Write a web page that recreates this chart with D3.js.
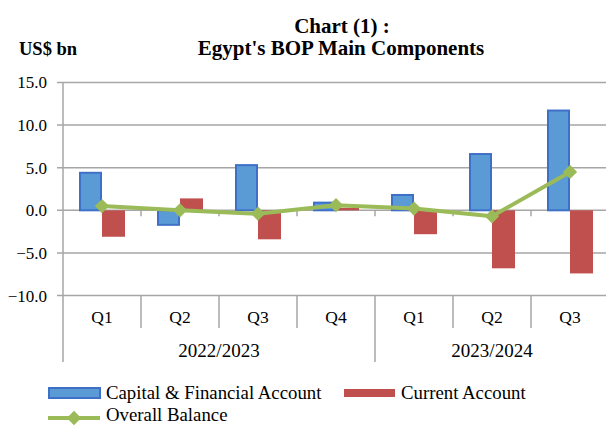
<!DOCTYPE html>
<html>
<head>
<meta charset="utf-8">
<script src="https://cdn.jsdelivr.net/npm/d3@7"></script>
<style>
  body { margin: 0; background: #fff; }
  svg { display: block; font-family: "Liberation Serif", "Times New Roman", serif; }
</style>
</head>
<body>
<div id="chart"></div>
<script>
const quarters = ["Q1", "Q2", "Q3", "Q4", "Q1", "Q2", "Q3"]
const years = [
  { label: "2022/2023", from: 0, to: 4 },
  { label: "2023/2024", from: 4, to: 7 }
]
const capitalFinancial = [4.4, -1.7, 5.3, 0.9, 1.8, 6.6, 11.7]
const currentAccount = [-3.1, 1.4, -3.4, 0.3, -2.8, -6.8, -7.4]
const overallBalance = [0.5, 0.0, -0.4, 0.6, 0.2, -0.7, 4.5]
const yTicks = [-10, -5, 0, 5, 10, 15]

const width = 606, height = 426
const left = 63, step = 78
const gridColor = '#a6a6a6'

const svg = d3.select('#chart').append('svg')
    .attr('width', width).attr('height', height)

const idx = d3.range(quarters.length)
const x = d3.scaleBand().domain(idx).range([left, left + step * quarters.length])
const xs = d3.scaleBand().domain(['cfa', 'ca']).range([16, 62])
const y = d3.scaleLinear().domain([-10, 15]).range([295.6, 82.4])

// title
svg.append('text').attr('x', 342).attr('y', 33)
    .attr('text-anchor', 'middle').attr('font-weight', 'bold').attr('font-size', 21)
    .text('Chart (1) :')
svg.append('text').attr('x', 341).attr('y', 55)
    .attr('text-anchor', 'middle').attr('font-weight', 'bold').attr('font-size', 21)
    .text("Egypt's BOP Main Components")
svg.append('text').attr('x', 19).attr('y', 55)
    .attr('font-weight', 'bold').attr('font-size', 18.5)
    .text('US$ bn')

// gridlines
svg.append('g').selectAll('line')
    .data(yTicks)
    .enter().append('line')
    .attr('x1', left - 6).attr('x2', width)
    .attr('y1', d => y(d)).attr('y2', d => y(d))
    .attr('stroke', gridColor).attr('stroke-width', 1.5)

// y labels
svg.append('g').selectAll('text')
    .data(yTicks)
    .enter().append('text')
    .attr('x', 47).attr('y', d => y(d) + 6)
    .attr('text-anchor', 'end').attr('font-size', 17)
    .text(d3.format('.1f'))

// left axis
svg.append('line')
    .attr('x1', left).attr('x2', left)
    .attr('y1', y(15)).attr('y2', 362)
    .attr('stroke', gridColor).attr('stroke-width', 1.5)

// tick marks on zero line
svg.append('g').selectAll('line')
    .data(idx.slice(1))
    .enter().append('line')
    .attr('x1', d => x(d)).attr('x2', d => x(d))
    .attr('y1', y(0)).attr('y2', y(0) + 6)
    .attr('stroke', gridColor).attr('stroke-width', 1.5)

// category separators
const yearStarts = years.map(d => d.from)
svg.append('g').selectAll('line')
    .data(idx.slice(1))
    .enter().append('line')
    .attr('x1', d => x(d)).attr('x2', d => x(d))
    .attr('y1', y(-10)).attr('y2', d => yearStarts.includes(d) ? 362 : 328)
    .attr('stroke', gridColor).attr('stroke-width', 1.5)

svg.append('g').selectAll('text')
    .data(quarters)
    .enter().append('text')
    .attr('x', (d, i) => x(i) + x.bandwidth() / 2).attr('y', 323)
    .attr('text-anchor', 'middle').attr('font-size', 17.5)
    .text(d => d)

svg.append('g').selectAll('text')
    .data(years)
    .enter().append('text')
    .attr('x', d => (x(d.from) + x(d.to - 1) + x.bandwidth()) / 2).attr('y', 357)
    .attr('text-anchor', 'middle').attr('font-size', 19)
    .text(d => d.label)

// bars
const barData = idx.map(i => [
    { key: 'cfa', i: i, v: capitalFinancial[i] },
    { key: 'ca', i: i, v: currentAccount[i] }
]).flat()

svg.append('g').selectAll('rect')
    .data(barData)
    .enter().append('rect')
    .attr('x', d => x(d.i) + xs(d.key) + (d.key === 'cfa' ? 1 : 0))
    .attr('width', d => xs.bandwidth() - (d.key === 'cfa' ? 2 : 0))
    .attr('y', d => y(Math.max(0, d.v)))
    .attr('height', d => Math.abs(y(d.v) - y(0)))
    .attr('fill', d => d.key === 'cfa' ? '#5b9bd5' : '#c0504d')
    .attr('stroke', d => d.key === 'cfa' ? '#3f70c8' : 'none')
    .attr('stroke-width', 2)

// overall balance line
const line = d3.line()
    .x((d, i) => x(i) + x.bandwidth() / 2)
    .y(d => y(d))
svg.append('path')
    .datum(overallBalance)
    .attr('d', line)
    .attr('fill', 'none').attr('stroke', '#9bbb59').attr('stroke-width', 4)
    .attr('stroke-linejoin', 'round')

const diamond = d3.symbol().type(d3.symbolDiamond2).size(130)
svg.append('g').selectAll('path')
    .data(overallBalance)
    .enter().append('path')
    .attr('d', diamond)
    .attr('transform', (d, i) => `translate(${x(i) + x.bandwidth() / 2},${y(d)})`)
    .attr('fill', '#9bbb59')

// legend
const lg = svg.append('g')
lg.append('rect').attr('x', 49).attr('y', 388).attr('width', 51).attr('height', 10)
    .attr('fill', '#5b9bd5').attr('stroke', '#3f70c8').attr('stroke-width', 2)
lg.append('text').attr('x', 106).attr('y', 399).attr('font-size', 18.8)
    .text('Capital & Financial Account')
lg.append('rect').attr('x', 344).attr('y', 389).attr('width', 51).attr('height', 8)
    .attr('fill', '#c0504d')
lg.append('text').attr('x', 401).attr('y', 399).attr('font-size', 18.8)
    .text('Current Account')
lg.append('line').attr('x1', 48).attr('x2', 100).attr('y1', 418).attr('y2', 418)
    .attr('stroke', '#9bbb59').attr('stroke-width', 4)
lg.append('path').attr('d', diamond).attr('transform', 'translate(74,418)')
    .attr('fill', '#9bbb59')
lg.append('text').attr('x', 106).attr('y', 421).attr('font-size', 18.8)
    .text('Overall Balance')
</script>
</body>
</html>
